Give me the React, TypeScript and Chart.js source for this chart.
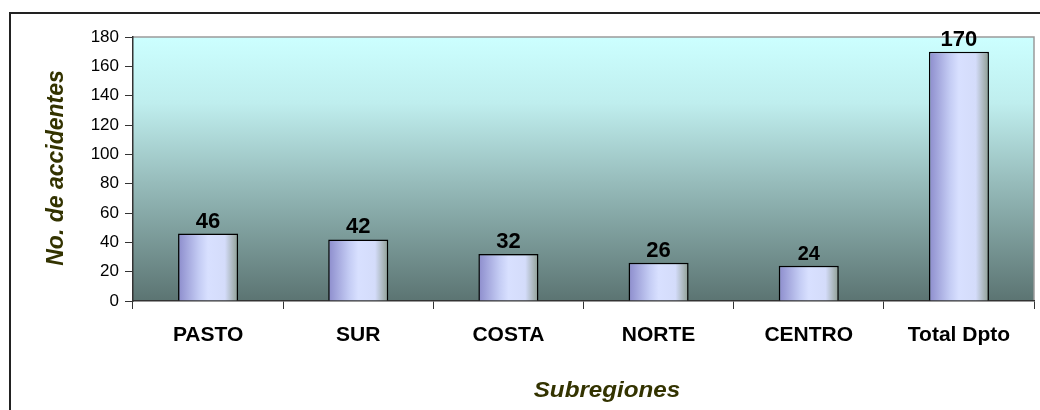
import React, { useEffect, useRef } from "react";
import { Chart, registerables } from "chart.js";

Chart.register(...registerables);

const categories = ["PASTO", "SUR", "COSTA", "NORTE", "CENTRO", "Total Dpto"];
const accidents = [46, 42, 32, 26, 24, 170];
const yTicks = [0, 20, 40, 60, 80, 100, 120, 140, 160, 180];
const yTitle = "No. de accidentes";
const xTitle = "Subregiones";

const FONT = "'Liberation Sans', Arial, sans-serif";
const BAR_FRACTION = 0.4;

const framePlugin = {
  id: "frame",
  beforeDraw(chart: any) {
    const { ctx, chartArea } = chart;
    if (!chartArea) return;
    ctx.save();
    ctx.strokeStyle = "#222";
    ctx.lineWidth = 2;
    ctx.beginPath();
    ctx.moveTo(10, 420);
    ctx.lineTo(10, 13);
    ctx.lineTo(1050, 13);
    ctx.stroke();
    const g = ctx.createLinearGradient(0, chartArea.top, 0, chartArea.bottom);
    g.addColorStop(0, "#ccffff");
    g.addColorStop(0.25, "#bfeeee");
    g.addColorStop(0.55, "#97bcbb");
    g.addColorStop(1, "#5b7472");
    ctx.fillStyle = g;
    ctx.fillRect(chartArea.left, chartArea.top, chartArea.right - chartArea.left, chartArea.bottom - chartArea.top);
    ctx.strokeStyle = "#9a9a9a";
    ctx.lineWidth = 1.5;
    ctx.beginPath();
    ctx.moveTo(chartArea.left, chartArea.top);
    ctx.lineTo(chartArea.right, chartArea.top);
    ctx.lineTo(chartArea.right, chartArea.bottom);
    ctx.stroke();
    ctx.restore();
  },
  afterDraw(chart: any) {
    const { ctx } = chart;
    ctx.save();
    ctx.fillStyle = "#333300";
    ctx.textAlign = "center";
    ctx.textBaseline = "alphabetic";
    ctx.font = `italic bold 22px ${FONT}`;
    ctx.save();
    ctx.translate(607, 397);
    ctx.scale(1.1, 1);
    ctx.fillText(xTitle, 0, 0);
    ctx.restore();
    ctx.font = `italic bold 23px ${FONT}`;
    ctx.translate(63, 168);
    ctx.rotate(-Math.PI / 2);
    ctx.fillText(yTitle, 0, 0);
    ctx.restore();
  },
};

const labelPlugin = {
  id: "valueLabels",
  afterDatasetsDraw(chart: any) {
    const { ctx } = chart;
    const meta = chart.getDatasetMeta(0);
    ctx.save();
    ctx.fillStyle = "#000";
    ctx.textAlign = "center";
    ctx.textBaseline = "alphabetic";
    meta.data.forEach((el: any, i: number) => {
      const v = chart.data.datasets[0].data[i];
      ctx.font = `bold ${v === 24 ? 20 : 22}px ${FONT}`;
      ctx.fillText(String(v), el.x, el.y - 6);
    });
    ctx.restore();
  },
};

function barFill(c: any) {
  const chart = c.chart;
  const xs = chart.scales && chart.scales.x;
  if (!xs || !chart.chartArea) return "#c8d0f8";
  const center = xs.getPixelForValue(c.dataIndex);
  const w = (xs.width / categories.length) * BAR_FRACTION;
  const l = center - w / 2;
  const g = chart.ctx.createLinearGradient(l, 0, l + w, 0);
  g.addColorStop(0, "#8c8ccc");
  g.addColorStop(0.35, "#c4ccf4");
  g.addColorStop(0.5, "#d8e0ff");
  g.addColorStop(0.78, "#d4dcfa");
  g.addColorStop(1, "#8e9e92");
  return g;
}

export default function App() {
  const ref = useRef<HTMLCanvasElement>(null);
  useEffect(() => {
    if (!ref.current) return;
    const chart = new Chart(ref.current, {
      type: "bar",
      data: {
        labels: categories,
        datasets: [
          {
            data: accidents,
            backgroundColor: barFill as any,
            borderColor: "#000",
            borderWidth: 1.5,
            barPercentage: BAR_FRACTION,
            categoryPercentage: 1,
          },
        ],
      },
      options: {
        responsive: false,
        animation: false,
        layout: { padding: { left: 0, top: 37, right: 6, bottom: 0 } },
        plugins: { legend: { display: false }, tooltip: { enabled: false } },
        scales: {
          x: {
            grid: {
              offset: true,
              drawOnChartArea: false,
              tickLength: 8,
              color: "#333",
              lineWidth: 1,
            },
            border: { display: true, color: "#333", width: 1.5 },
            ticks: {
              color: "#000",
              font: { family: FONT, size: 21, weight: "bold" },
              padding: 14,
              maxRotation: 0,
              autoSkip: false,
            },
            afterFit(s: any) {
              s.height = 109;
            },
          },
          y: {
            min: 0,
            max: 180,
            afterBuildTicks(s: any) {
              s.ticks = yTicks.map((v) => ({ value: v }));
            },
            grid: { drawOnChartArea: false, tickLength: 8, color: "#333" },
            border: { display: true, color: "#333", width: 1.5 },
            ticks: {
              color: "#000",
              font: { family: FONT, size: 17 },
              padding: 6,
            },
            afterFit(s: any) {
              s.width = 133;
            },
          },
        },
      },
      plugins: [framePlugin, labelPlugin],
    });
    return () => chart.destroy();
  }, []);
  return (
    <div style={{ position: "absolute", left: 0, top: 0, width: 1040, height: 410, background: "#fff" }}>
      <canvas ref={ref} width={1040} height={410} style={{ display: "block" }} />
    </div>
  );
}
